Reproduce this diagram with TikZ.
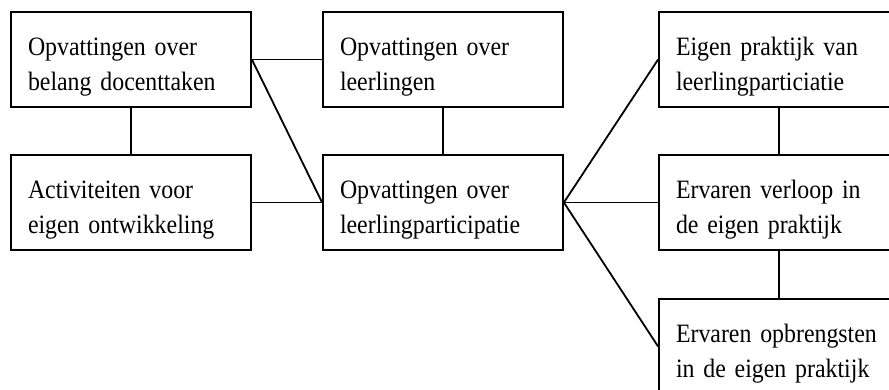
\documentclass[tikz,border=0pt]{standalone}
\usepackage{fontspec}
\setmainfont[FakeStretch=0.9]{Liberation Serif}
\usetikzlibrary{positioning}
\tikzset{
  blok/.style={draw, line width=1.8pt, text width=206pt, inner xsep=17pt, inner ysep=0pt,
    text height=43pt, text depth=52pt, align=left, font=\fontsize{26.5}{35}\selectfont},
  lijn/.style={line width=1.8pt}
}

\begin{document}
\begin{tikzpicture}[x=1pt,y=-1pt]
\useasboundingbox (0,0) rectangle (889,389);
\clip (0,0) rectangle (889,389);
\node[blok] (belang) at (131,59.5) {Opvattingen over\\belang docenttaken};
\node[blok] (activ) at (131,202.5) {Activiteiten voor\\eigen ontwikkeling};
\node[blok] (leerl) at (443,59.5) {Opvattingen over\\leerlingen};
\node[blok] (partic) at (443,202.5) {Opvattingen over\\leerlingparticipatie};
\node[blok] (praktijk) at (779,59.5) {Eigen praktijk van\\leerlingparticiatie};
\node[blok] (verloop) at (779,202.5) {Ervaren verloop in\\de eigen praktijk};
\node[blok] (opbreng) at (779,346.5) {Ervaren opbrengsten\\in de eigen praktijk};
\draw[lijn] (belang) -- (activ);
\draw[lijn] (belang.east) -- (leerl.west);
\draw[lijn] (belang.east) -- (partic.west);
\draw[lijn] (activ.east) -- (partic.west);
\draw[lijn] (leerl) -- (partic);
\draw[lijn] (partic.east) -- (praktijk.west);
\draw[lijn] (partic.east) -- (verloop.west);
\draw[lijn] (partic.east) -- (opbreng.west);
\draw[lijn] (praktijk) -- (verloop);
\draw[lijn] (verloop) -- (opbreng);
\end{tikzpicture}
\end{document}
